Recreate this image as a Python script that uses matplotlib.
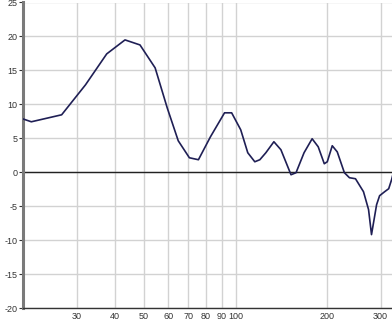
import matplotlib
matplotlib.use("Agg")
import matplotlib.pyplot as plt
from matplotlib.ticker import FixedLocator, NullLocator, FixedFormatter

plt.rcParams["font.family"] = ["Liberation Sans", "DejaVu Sans"]
plt.rcParams["axes.unicode_minus"] = False

# response curve (Hz, dB)
freq_hz = [20.0, 21.3, 26.8, 32.1, 37.7, 43.3, 48.5, 54.4, 59.6, 64.8,
           70.5, 75.5, 82.7, 92.0, 97.1, 104.0, 109.7, 115.7, 120.2, 125.8,
           133.7, 141.0, 152.2, 158.1, 168.0, 178.6, 187.0, 195.8, 200.3, 208.0,
           216.0, 228.0, 236.9, 248.0, 263.5, 273.8, 280.0, 291.0, 297.7, 309.3,
           318.9, 326.0, 331.0]
level_db = [7.85, 7.43, 8.46, 12.87, 17.43, 19.49, 18.75, 15.37, 9.49, 4.63,
            2.13, 1.84, 5.22, 8.75, 8.75, 6.25, 2.87, 1.54, 1.84, 2.87,
            4.49, 3.31, -0.37, -0.07, 2.87, 4.93, 3.75, 1.25, 1.54, 3.9,
            3.0, -0.07, -0.81, -0.96, -2.87, -5.5, -9.19, -4.78, -3.46, -2.87,
            -2.43, -1.1, 0.07]

x_ticks = [30, 40, 50, 60, 70, 80, 90, 100, 200, 300]
x_labels = ["30", "40", "50", "60", "70", "80", "90", "100", "200", "300"]
y_ticks = [-20, -15, -10, -5, 0, 5, 10, 15, 20, 25]

fig = plt.figure(figsize=(3.92, 3.27), dpi=100)
ax = fig.add_axes([23 / 392, 19 / 327, 1 - 23 / 392, 305.5 / 327])

ax.set_xscale("log")
ax.set_xlim(20, 327)
ax.set_ylim(-20, 25)

ax.xaxis.set_major_locator(FixedLocator(x_ticks))
ax.xaxis.set_major_formatter(FixedFormatter(x_labels))
ax.xaxis.set_minor_locator(NullLocator())
ax.set_yticks(y_ticks)

ax.grid(True, color="#d2d2d2", linewidth=1.0)
ax.set_axisbelow(True)
ax.axhline(0, color="#222222", linewidth=1.0, zorder=2)

ax.plot(freq_hz, level_db, color="#1f1f55", linewidth=1.2, zorder=3)

for side in ("top", "right"):
    ax.spines[side].set_visible(False)
ax.spines["left"].set_color("#7a7a7a")
ax.spines["left"].set_linewidth(2.2)
ax.spines["bottom"].set_color("#333333")
ax.spines["bottom"].set_linewidth(1.0)

ax.tick_params(axis="x", length=0, pad=3, labelsize=6.5, colors="#333333")
ax.tick_params(axis="y", length=3, width=0.8, pad=1, labelsize=6.5,
               colors="#333333")

fig.savefig("out.png", dpi=100)
